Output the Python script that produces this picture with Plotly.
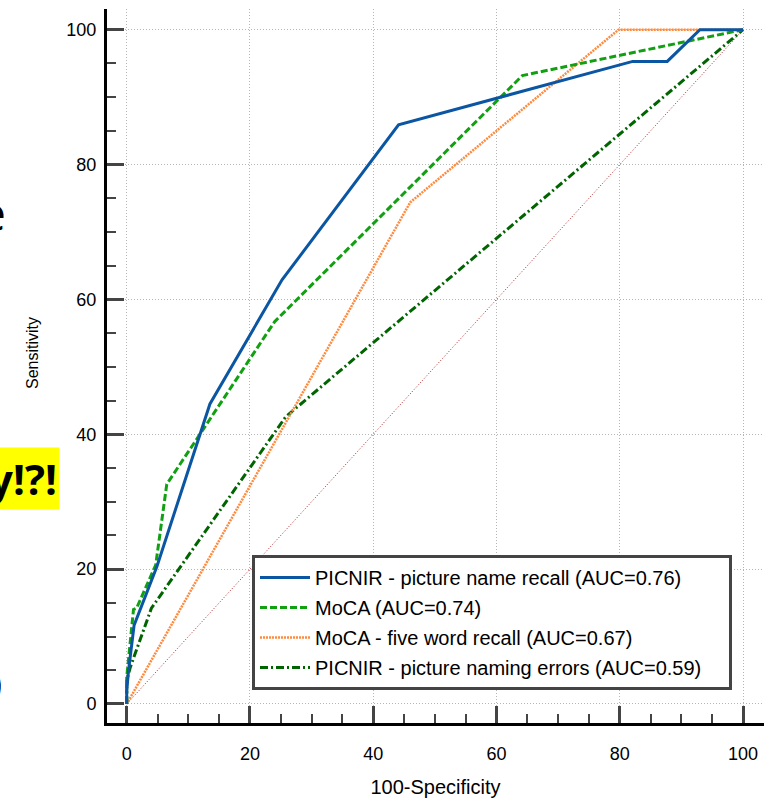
import plotly.graph_objects as go

# ROC curves (x = 100-Specificity, y = Sensitivity)
recall_x = [0, 0, 0.3, 1.2, 4.9, 13.5, 25.2, 44.1, 82.1, 87.7, 93.0, 100]
recall_y = [0, 2, 5.0, 11.7, 20.4, 44.5, 62.9, 85.9, 95.3, 95.3, 100, 100]

moca_x = [0, 0, 1.1, 1.6, 4.7, 6.5, 24.0, 64.2, 100]
moca_y = [0, 4, 14.0, 14.2, 20.6, 32.6, 56.7, 93.2, 100]

five_word_x = [0, 46.0, 79.8, 100]
five_word_y = [0, 74.4, 100, 100]

naming_x = [0, 0, 0.6, 4.0, 25.8, 100]
naming_y = [0, 3.5, 5.5, 14.2, 42.6, 100]

ref_x = [0, 100]
ref_y = [0, 100]

NB = "\u00a0"
names = [
    "PICNIR - picture name recall (AUC=0.76)",
    "MoCA (AUC=0.74)",
    "MoCA - five word recall (AUC=0.67)",
    "PICNIR - picture naming errors (AUC=0.59)" + NB * 4,
]

FONT = "Liberation Sans, Arial, sans-serif"
W, H = 774, 799
ML, MR, MT, MB = 107, 10, 9, 76
PW, PH = W - ML - MR, H - MT - MB


def px_x(p):
    # page pixel -> paper coordinate
    return (p - ML) / PW


def px_y(p):
    return (H - MB - p) / PH


fig = go.Figure()

# chance diagonal
fig.add_trace(go.Scatter(x=ref_x, y=ref_y, mode="lines", showlegend=False,
                         line=dict(color="#b22222", width=1, dash="1px,2px"),
                         hoverinfo="skip"))

fig.add_trace(go.Scatter(x=naming_x, y=naming_y, mode="lines", name=names[3],
                         legendrank=4, legendgroup="d",
                         line=dict(color="#006400", width=3, dash="8px,3px,2px,3px")))
fig.add_trace(go.Scatter(x=five_word_x, y=five_word_y, mode="lines", name=names[2],
                         legendrank=3, legendgroup="c",
                         line=dict(color="#ff8a3d", width=2.5, dash="2px,1px")))
fig.add_trace(go.Scatter(x=moca_x, y=moca_y, mode="lines", name=names[1],
                         legendrank=2, legendgroup="b",
                         line=dict(color="#11a011", width=3, dash="7px,3px")))
fig.add_trace(go.Scatter(x=recall_x, y=recall_y, mode="lines", name=names[0],
                         legendrank=1, legendgroup="a",
                         line=dict(color="#0b56a3", width=3)))

axis_common = dict(
    showline=True, linecolor="black", linewidth=3, mirror=False,
    ticks="inside", ticklen=17, tickwidth=2.5, tickcolor="#444",
    showgrid=True, gridcolor="#b5b5b5", gridwidth=1, griddash="1px,2px",
    zeroline=False, dtick=20, tick0=0, automargin=False,
    tickfont=dict(family=FONT, size=18, color="black"),
    minor=dict(dtick=5, ticks="inside", ticklen=9, tickwidth=1.5,
               tickcolor="#444", showgrid=False),
)

fig.update_xaxes(axis_common, range=[-3.2, 103.4], ticklabelstandoff=12,
                 title=dict(text="100-Specificity", standoff=18,
                            font=dict(family=FONT, size=20, color="black")))
fig.update_yaxes(axis_common, range=[-2.82, 103.07], ticklabelstandoff=4)

# y title sits a little above the middle in the original
fig.add_annotation(text="Sensitivity", xref="paper", yref="paper", x=px_x(33), y=px_y(353),
                   textangle=-90, showarrow=False, xanchor="center", yanchor="middle",
                   font=dict(family=FONT, size=16, color="black"))

# bits of the slide behind the chart, cut off at the left edge
fig.add_annotation(text="e", xref="paper", yref="paper", x=px_x(8), y=px_y(212),
                   xanchor="right", yanchor="middle", showarrow=False,
                   font=dict(family="Open Sans, sans-serif", size=48, color="black"))
fig.add_annotation(text="<b>y!?!</b>", xref="paper", yref="paper", x=px_x(60), y=px_y(478),
                   xanchor="right", yanchor="middle", showarrow=False,
                   bgcolor="#ffff00", borderpad=2,
                   font=dict(family="Open Sans, sans-serif", size=42, color="black"))
fig.add_annotation(text=")", xref="paper", yref="paper", x=px_x(4), y=px_y(683),
                   xanchor="right", yanchor="middle", showarrow=False,
                   font=dict(family="Open Sans, sans-serif", size=34, color="black"))

fig.update_layout(
    width=W, height=H,
    margin=dict(l=ML, r=MR, t=MT, b=MB, autoexpand=False),
    paper_bgcolor="white", plot_bgcolor="white",
    font=dict(family=FONT, size=18, color="black"),
    legend=dict(x=px_x(252), y=px_y(555), xanchor="left", yanchor="top",
                bgcolor="white", bordercolor="#444", borderwidth=3,
                font=dict(family=FONT, size=20, color="black"),
                traceorder="grouped", tracegroupgap=1, itemwidth=50),
)

# drop the default 8px page margin so the figure fills the window
fig.write_html("out.html", config={"displayModeBar": False},
               post_script="document.body.style.margin = '0px';")
